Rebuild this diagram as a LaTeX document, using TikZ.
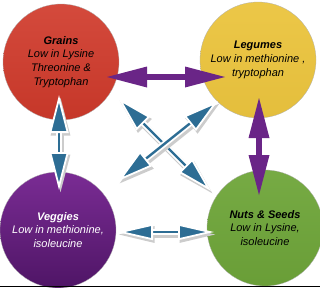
\documentclass[tikz,border=0pt]{standalone}
\usepackage{fontspec}
\setmainfont{Liberation Sans}
\usetikzlibrary{arrows.meta,calc}
\definecolor{grainred}{HTML}{D03A2B}
\definecolor{legyel}{HTML}{EBC43E}
\definecolor{vegvio}{HTML}{7A2C94}
\definecolor{vegviodk}{HTML}{4F1566}
\definecolor{nutgrn}{HTML}{6FA63A}
\definecolor{arrblue}{HTML}{2D6D94}
\definecolor{arrvio}{HTML}{6A2587}
\tikzset{
  food/.style={circle, minimum size=116pt, inner sep=0pt, draw=black!30, line width=0.3pt,
               align=center, font=\fontsize{11}{13.8}\selectfont\itshape},
  vio/.style={line width=6pt, draw=arrvio,
              {Triangle[length=40pt,width=21pt,line width=0pt]}-{Triangle[length=40pt,width=21pt,line width=0pt]}},
  blu/.style 2 args={line width=2.4pt, draw=arrblue,
              {Triangle[length=#1,width=#2,line width=1.8pt,color=white,fill=arrblue]}-{Triangle[length=#1,width=#2,line width=1.8pt,color=white,fill=arrblue]},
              preaction={draw=black!20, line width=6.5pt, transform canvas={shift={(1.5pt,-2.5pt)}},
                         arrows={Triangle[length=#1,width=#2,line width=3pt]-Triangle[length=#1,width=#2,line width=3pt]}},
              preaction={draw=white, line width=6pt, arrows=-, shorten <=16pt, shorten >=16pt}}
}
\newcommand{\ttl}[1]{\textbf{#1}}

\begin{document}
\begin{tikzpicture}[x=1pt,y=-1pt]
  \useasboundingbox (0,0) rectangle (320,287);
  % the four food groups
  \node[food, top color=grainred!92!white, bottom color=grainred!95!black] (grains) at (61,62)
    {\ttl{Grains}\\Low in Lysine\\Threonine \&\\Tryptophan};
  \node[food, top color=legyel!95!white, bottom color=legyel!97!black] (legumes) at (258,60)
    {\ttl{Legumes}\\Low in methionine ,\\tryptophan};
  \node[food, top color=vegvio, bottom color=vegviodk, text=white] (veggies) at (58,230)
    {\ttl{Veggies}\\Low in methionine,\\isoleucine};
  \node[food, top color=nutgrn!95!white, bottom color=nutgrn!95!black] (nuts) at (265,228)
    {\ttl{Nuts \& Seeds}\\Low in Lysine,\\isoleucine};

  % pairings
  \draw[vio] ($(grains.center)+(46,15)$) -- ($(legumes.center)+(-33,17)$);
  \draw[vio] ($(legumes.center)+(1,38)$) -- ($(nuts.center)+(-6,-33)$);
  \draw[blu={38pt}{19pt}] ($(grains.center)+(-2,33)$) -- ($(veggies.center)+(1,-40)$);
  \draw[blu={36pt}{16pt}] ($(veggies.center)+(59,2)$) -- ($(nuts.center)+(-51,4)$);
  \draw[blu={36pt}{19pt}] ($(grains.center)+(57,36)$) -- ($(nuts.center)+(-54,-37)$);
  \draw[blu={36pt}{19pt}] ($(legumes.center)+(-40,41)$) -- ($(veggies.center)+(60,-49)$);

  \draw[line width=1.2pt] (0,286.4) -- (320,286.4);
\end{tikzpicture}
\end{document}
